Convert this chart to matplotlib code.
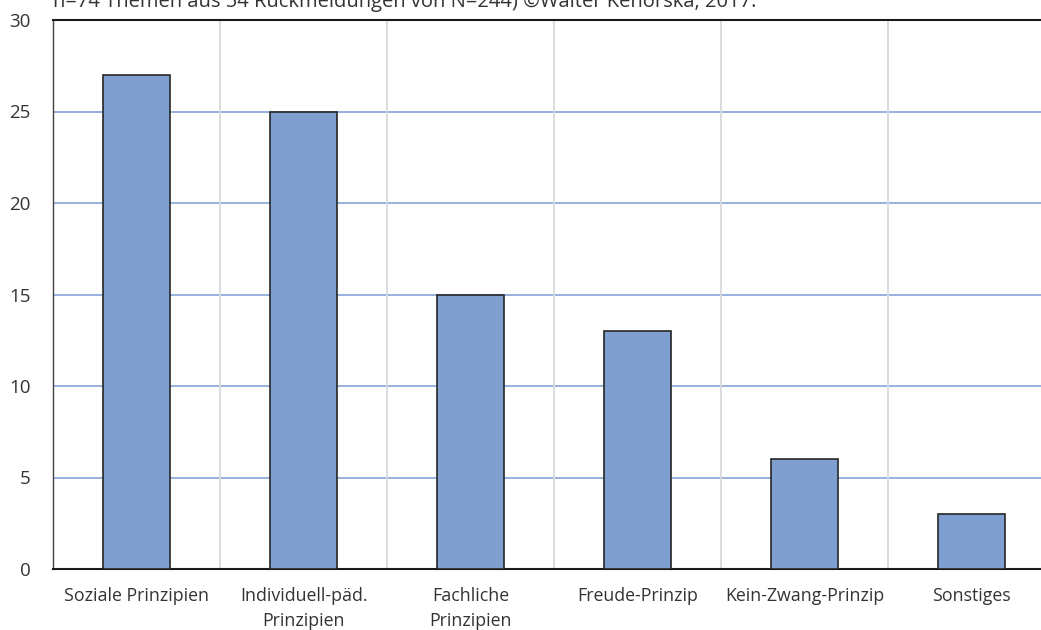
import matplotlib
matplotlib.use('Agg')
import matplotlib.pyplot as plt
import numpy as np

plt.rcParams['font.family'] = ['Open Sans', 'DejaVu Sans']

categories = ['Soziale Prinzipien', 'Individuell-päd.\nPrinzipien', 'Fachliche\nPrinzipien',
              'Freude-Prinzip', 'Kein-Zwang-Prinzip', 'Sonstiges']
counts = [27, 25, 15, 13, 6, 3]
yticks = [0, 5, 10, 15, 20, 25, 30]
note = 'n=74 Themen aus 54 Rückmeldungen von N=244) ©Walter Kenorska, 2017.'

W, H = 1041, 630
fig = plt.figure(figsize=(W / 100, H / 100), dpi=100)
# plot area runs past the right edge of the figure
ax = fig.add_axes([53 / W, 1 - 569 / H, (1055 - 53) / W, (569 - 20) / H])

x = np.arange(len(categories))
ax.bar(x, counts, width=0.4, color='#7F9FD0', edgecolor='#262626', linewidth=1.2, zorder=3)

ax.set_xlim(-0.5, len(categories) - 0.5)
ax.set_ylim(0, 30)
ax.set_yticks(yticks)
ax.set_xticks(x)
ax.set_xticklabels(categories, fontsize=12.8, color='#333333', linespacing=1.5)
ax.tick_params(axis='y', labelsize=13.5, colors='#333333', length=0, pad=16)
ax.tick_params(axis='x', length=0, pad=13)

# horizontal grid in blue, vertical separators in light grey
for v in yticks[1:-1]:
    ax.axhline(v, color='#8FAADC', linewidth=1.3, zorder=1)
for b in np.arange(0.5, len(categories), 1.0):
    ax.axvline(b, color='#D9D9D9', linewidth=1.3, zorder=1)

for side in ['left', 'top', 'bottom']:
    ax.spines[side].set_color('#1a1a1a')
    ax.spines[side].set_linewidth(1.5)
ax.spines['right'].set_visible(False)
ax.spines['left'].set_linewidth(1.0)
ax.spines['left'].set_color('#404040')

fig.text(53 / W, 1 - 7 / H, note, fontsize=14.5, color='#333333', va='baseline', ha='left')

fig.savefig('out.png', dpi=100)
